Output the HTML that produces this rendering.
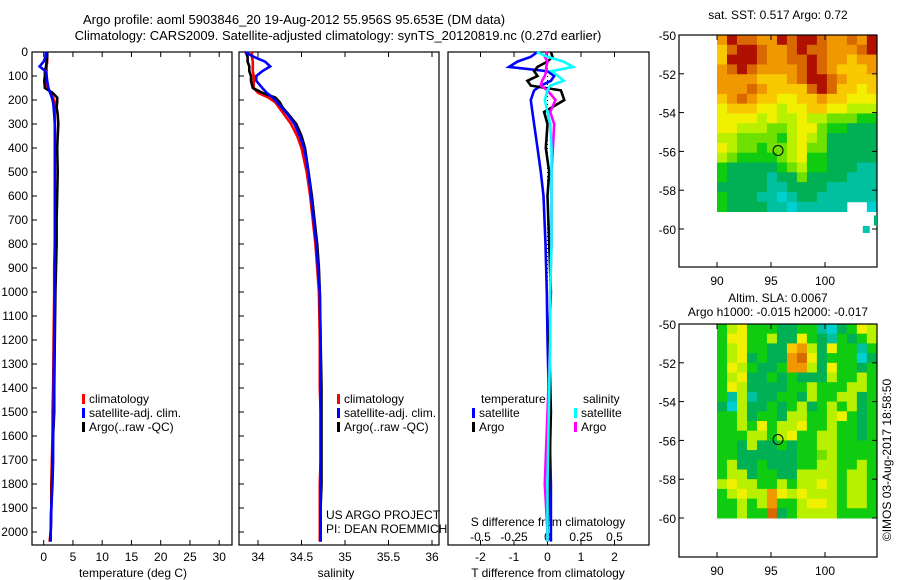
<!DOCTYPE html>
<html><head><meta charset="utf-8"><style>
body{margin:0;background:#fff}
svg{display:block;font-family:"Liberation Sans",sans-serif}
text{fill:#000}
</style></head><body>
<svg id="s" width="900" height="580" viewBox="0 0 900 580" xmlns="http://www.w3.org/2000/svg">
<text x="294" y="24" font-size="13" text-anchor="middle">Argo profile: aoml 5903846_20 19-Aug-2012 55.956S 95.653E (DM data)</text>
<text x="338" y="40" font-size="13" text-anchor="middle">Climatology: CARS2009. Satellite-adjusted climatology: synTS_20120819.nc (0.27d earlier)</text>
<g id="g"></g>
</svg>
<script>
// ---- data ----
const depthP = [0,20,40,60,80,100,120,150,170,190,210,230,260,300,350,400,500,600,700,800,900,1000,1200,1400,1500,1600,1700,1800,1900,2000,2040];
const tempClim = [0.6,0.6,0.6,0.5,0.5,0.5,0.5,0.7,1.2,1.6,1.9,2.0,1.9,1.9,1.9,1.9,1.9,1.9,1.9,1.9,1.8,1.8,1.7,1.6,1.5,1.5,1.4,1.3,1.3,1.2,1.0];
const tempSat = [0.4,0.3,0.0,-0.7,0.3,0.5,0.6,0.8,1.1,1.4,1.6,1.7,1.8,1.9,1.9,1.9,1.9,1.9,1.9,1.9,1.9,1.9,1.8,1.7,1.7,1.6,1.6,1.5,1.3,1.2,1.2];
const tempArgo = [0.6,0.6,0.5,0.4,0.2,0.2,0.1,0.2,1.5,2.3,2.3,2.2,2.4,2.5,2.4,2.3,2.4,2.3,2.2,2.2,2.1,2.0,1.9,1.8,1.8,1.6,1.5,1.4,1.3,1.2,1.1];
const salClim = [33.93,33.93,33.94,33.94,33.94,33.95,33.95,33.95,34.0,34.12,34.2,34.24,34.3,34.38,34.45,34.5,34.56,34.6,34.63,34.66,34.68,34.7,34.71,34.71,34.72,34.72,34.72,34.71,34.71,34.71,34.71];
const salSat = [33.85,33.95,34.08,34.14,34.05,33.98,33.98,34.05,34.1,34.17,34.22,34.27,34.34,34.42,34.48,34.53,34.58,34.61,34.64,34.67,34.69,34.71,34.72,34.72,34.72,34.72,34.72,34.72,34.72,34.72,34.72];
const salArgo = [33.86,33.88,33.88,33.9,33.9,33.92,33.92,33.94,34.05,34.2,34.25,34.28,34.35,34.44,34.5,34.54,34.58,34.62,34.65,34.68,34.7,34.71,34.72,34.73,34.73,34.73,34.73,34.73,34.72,34.72,34.72];
const depthD = [0,20,40,62,80,100,120,140,160,200,250,300,400,500,600,800,1000,1200,1500,1800,2000,2040];
const tDiffSat = [-0.3,-0.5,-0.9,-1.15,0.0,0.2,0.1,-0.2,-0.4,-0.5,-0.45,-0.4,-0.3,-0.2,-0.12,-0.06,-0.02,0.0,0.05,0.1,0.1,0.1];
const tDiffArgo = [0.1,0.15,0.0,-0.3,-0.4,-0.3,-0.6,-0.5,0.4,0.5,-0.1,0.0,-0.05,0.05,0.0,0.05,0.1,0.05,0.1,0.05,0.0,0.0];
const sDiffSat = [-0.08,0.0,0.12,0.19,0.03,0.08,0.12,0.02,0.0,-0.02,0.0,0.02,0.03,0.03,0.03,0.03,0.02,0.02,0.01,0.0,0.0,0.0];
const sDiffArgo = [0.0,-0.02,0.0,-0.01,-0.01,-0.02,-0.04,-0.05,0.0,0.06,0.02,0.05,0.04,0.03,0.03,0.03,0.02,0.02,0.0,-0.02,0.0,0.0];
const depthTicks = [0,100,200,300,400,500,600,700,800,900,1000,1100,1200,1300,1400,1500,1600,1700,1800,1900,2000];
const tempTicks = [0,5,10,15,20,25,30];
const salTicks = [34,34.5,35,35.5,36];
const tdTicks = [-2,-1,0,1,2];
const sdTicks = [-0.5,-0.25,0,0.25,0.5];
const sstRows = ["8a9988a9aa98898a","79aa9889a998889a","7aaa98899a988788","89a988889a987778","888877789aa98777","8889877779a97767","7898776677877666","6777665667766555","6666565565544433","6655544566433222","5544443565422222","6544344564422222","5433334563322222","3222223453322211","3222212242222111","2222211222211111","3222110122111111","3222211011111..0"];
const slaRows = ["3563332233102365","3663352263213235","3563322785263313","3562322896233302","3653223885263323","3562232322253353","3652222335333553","3151223325335523","2052232352353523","3352332553356323","3353635563353323","3335535633553323","3325223233553333","3322222233453333","3522322233553353","3552332255553553","5655335355653553","3565586565553553","3353583356653553","3353392355553333"];
const mapXTicks = [90,95,100];
const mapYTicks = [-50,-52,-54,-56,-58,-60];
const argoLon = 95.653, argoLat = -55.956;
// ---- helpers ----
const NS="http://www.w3.org/2000/svg", G=document.getElementById('g');
function mk(tag,at,par){const e=document.createElementNS(NS,tag);for(const k in at)e.setAttribute(k,at[k]);(par||G).appendChild(e);return e;}
function txt(x,y,s,size,anchor){const e=mk('text',{x:x,y:y,'font-size':size||12,'text-anchor':anchor||'middle'});e.textContent=s;return e;}
const TOP=52, BOT=545;
const yD = d => TOP + d*0.24;
const xT = t => 43.7 + t*5.85;
const xS = s => 258 + (s-34)*87;
const xTD = v => 547.5 + v*33.5;
const xSD = v => 547.5 + v*134;
function line(xf,vals,depths,color,name){
  const pts = vals.map((v,i)=>xf(v).toFixed(1)+','+yD(depths[i]).toFixed(1)).join(' ');
  const e = mk('polyline',{points:pts,fill:'none',stroke:color,'stroke-width':2.6,'stroke-linejoin':'miter'});
  
  
}
function frame(x0,x1,name){
  const e = mk('rect',{x:x0,y:TOP,width:x1-x0,height:BOT-TOP,fill:'none',stroke:'#000','stroke-width':1.2});
  
  
}
// Panel 1
frame(32,232,'temperature-panel');
depthTicks.forEach(d=>{mk('line',{x1:32,x2:37,y1:yD(d),y2:yD(d),stroke:'#000'});
  const t=txt(28,yD(d)+4,String(d),12,'end');
  
  });
tempTicks.forEach(v=>{mk('line',{x1:xT(v),x2:xT(v),y1:TOP,y2:TOP+5,stroke:'#000'});mk('line',{x1:xT(v),x2:xT(v),y1:BOT,y2:BOT-5,stroke:'#000'});
  const t=txt(xT(v),561,String(v));
  
  });
{const t=txt(133,577,'temperature (deg C)');}
line(xT,tempClim,depthP,'#f00','temperature-climatology-line');
line(xT,tempArgo,depthP,'#000','temperature-argo-line');
line(xT,tempSat,depthP,'#00f','temperature-satellite-line');
// Panel 2
frame(239,439,'salinity-panel');
depthTicks.forEach(d=>{mk('line',{x1:239,x2:244,y1:yD(d),y2:yD(d),stroke:'#000'});});
salTicks.forEach(v=>{mk('line',{x1:xS(v),x2:xS(v),y1:TOP,y2:TOP+5,stroke:'#000'});mk('line',{x1:xS(v),x2:xS(v),y1:BOT,y2:BOT-5,stroke:'#000'});
  const t=txt(xS(v),561,String(v));
  
  });
{const t=txt(336,577,'salinity');}
line(xS,salClim,depthP,'#f00','salinity-climatology-line');
line(xS,salArgo,depthP,'#000','salinity-argo-line');
line(xS,salSat,depthP,'#00f','salinity-satellite-line');
// legends
function leg(x,y,color,label,name){mk('rect',{x:x,y:y-9,width:3,height:10,fill:color});
  const t=txt(x+7,y,label,12,'start');
  
  }
[[82,'temperature'],[337,'salinity']].forEach(([x,n])=>{
  leg(x,403,'#f00','climatology',n+'-legend-climatology');
  leg(x,417,'#00f','satellite-adj. clim.',n+'-legend-satellite');
  leg(x,431,'#000','Argo(..raw -QC)',n+'-legend-argo');});
txt(326,519,'US ARGO PROJECT',12,'start');
txt(326,533,'PI: DEAN ROEMMICH',12,'start');
// Panel 3
frame(448,649,'difference-panel');
mk('line',{x1:547.5,x2:547.5,y1:TOP,y2:BOT,stroke:'#000','stroke-width':1,'stroke-dasharray':'1,3'});
tdTicks.forEach(v=>{mk('line',{x1:xTD(v),x2:xTD(v),y1:TOP,y2:TOP+5,stroke:'#000'});mk('line',{x1:xTD(v),x2:xTD(v),y1:BOT,y2:BOT-5,stroke:'#000'});
  const t=txt(xTD(v),561,String(v));
  
  });
sdTicks.forEach(v=>{const t=txt(xSD(v),541,String(v));
  
  });
txt(548,526,'S difference from climatology');
txt(548,577,'T difference from climatology');
line(xTD,tDiffSat,depthD,'#00f','t-diff-satellite-line');
line(xTD,tDiffArgo,depthD,'#000','t-diff-argo-line');
line(xSD,sDiffArgo,depthD,'#f0f','s-diff-argo-line');
line(xSD,sDiffSat,depthD,'#0ff','s-diff-satellite-line');
txt(481,403,'temperature',12,'start');
leg(472,417,'#00f','satellite','diff-legend-t-satellite');
leg(472,431,'#000','Argo','diff-legend-t-argo');
txt(583,403,'salinity',12,'start');
leg(574,417,'#0ff','satellite','diff-legend-s-satellite');
leg(574,431,'#f0f','Argo','diff-legend-s-argo');
// Maps
const pal={'0':'#00d0d0','1':'#00c0a0','2':'#00b054','3':'#10cc10','4':'#70e000','5':'#b8f000','6':'#f0f000','7':'#f8c800','8':'#f09800','9':'#d86800','a':'#b01000'};
function map(top,bottom,rows,latMin,name){
  const mx=lon=>717+(lon-90)*10.8, my=lat=>top+(-50-lat)*19.4;
  const cw=(104.8-90)/16;
  const rh=(-50-latMin)/rows.length;
  const gm=mk('g',{});
  
  
  rows.forEach((r,i)=>{for(let j=0;j<r.length;j++){const c=r[j];if(c==='.')continue;
    mk('rect',{x:mx(90+j*cw),y:my(-50-i*rh),width:cw*10.8+0.5,height:rh*19.4+0.5,fill:pal[c]},gm);}});
  mk('rect',{x:679,y:top,width:198,height:bottom-top,fill:'none',stroke:'#000','stroke-width':1.2});
  mapYTicks.forEach(v=>{mk('line',{x1:679,x2:684,y1:my(v),y2:my(v),stroke:'#000'});mk('line',{x1:877,x2:872,y1:my(v),y2:my(v),stroke:'#000'});
    const t=txt(676,my(v)+5,String(v),12,'end');});
  mapXTicks.forEach(v=>{mk('line',{x1:mx(v),x2:mx(v),y1:top,y2:top+5,stroke:'#000'});mk('line',{x1:mx(v),x2:mx(v),y1:bottom,y2:bottom-5,stroke:'#000'});
    const t=txt(mx(v),bottom+18,String(v));});
  mk('ellipse',{cx:mx(argoLon),cy:my(argoLat),rx:5,ry:5,fill:'none',stroke:'#000','stroke-width':1});
}
map(35,267,sstRows,-59.1,'sst-map');
mk('rect',{x:717+(103.5-90)*10.8,y:35+(10)*19.4-3,width:7,height:7,fill:'#00c8b0'});
mk('rect',{x:874,y:35+9.3*19.4,width:3,height:10,fill:'#00b070'});
txt(778,19,'sat. SST: 0.517 Argo: 0.72',12);
map(324,557,slaRows,-60,'sla-map');
txt(778,302,'Altim. SLA: 0.0067',12);
txt(778,316,'Argo h1000: -0.015 h2000: -0.017',12);
{const t=mk('text',{x:0,y:0,'font-size':12,'text-anchor':'middle',transform:'translate(891,460) rotate(-90)'});t.textContent='©IMOS 03-Aug-2017 18:58:50';
}
</script>
</body></html>
